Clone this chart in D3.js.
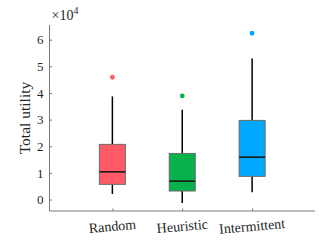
<!DOCTYPE html>
<meta charset="UTF-8">
<style>
  body { margin: 0; background: #fff; }
  text { font-family: "Liberation Serif", "DejaVu Serif", serif; fill: #262626; }
  .axis path, .axis line { stroke: #777; }
</style>
<body>
<svg width="332" height="249" id="chart"></svg>
<script src="https://cdnjs.cloudflare.com/ajax/libs/d3/7.8.5/d3.min.js"></script>
<script>

// box stats (total utility)
var categories = ["Random", "Heuristic", "Intermittent"];
var colors = ["#ff5a66", "#08b14a", "#00a8ff"];
var q1       = [5700, 3200, 8700];
var median   = [10400, 6900, 15900];
var q3       = [20700, 17300, 29700];
var whiskLo  = [2100, -1300, 2700];
var whiskHi  = [38700, 33700, 52900];
var outliers = [45900, 38900, 62400];
var yTicks = [0, 1, 2, 3, 4, 5, 6];

var svg = d3.select("#chart");
var plotL = 49.5, plotR = 315, plotT = 25, plotB = 211;

var x = d3.scaleLinear().domain([0.1, 3.9]).range([plotL, plotR]);
var y = d3.scaleLinear().domain([-0.43, 6.55]).range([plotB, plotT]);

// axes, ticks pointing inward
svg.append("g")
    .attr("class", "axis")
    .attr("transform", "translate(0," + plotB + ")")
    .call(d3.axisBottom(x).tickValues([1, 2, 3]).tickSize(-2.5).tickFormat(""))
    .call(function(g) { g.select(".domain").attr("d", "M" + plotL + ",0H" + plotR); });

var yAxis = svg.append("g")
    .attr("class", "axis")
    .attr("transform", "translate(" + plotL + ",0)")
    .call(d3.axisLeft(y).tickValues(yTicks).tickSize(-2.5).tickPadding(6).tickFormat(d3.format("d")))
    .call(function(g) { g.select(".domain").attr("d", "M0," + plotT + "V" + plotB); });
yAxis.selectAll("text").style("font-size", "13px").style("font-family", null).attr("fill", "#262626");

// category labels, slightly tilted
categories.forEach(function(c, i) {
  svg.append("text")
      .attr("transform", "translate(" + x(i + 1) + ",226) rotate(-5)")
      .attr("text-anchor", "middle")
      .attr("dy", "0.35em")
      .style("font-size", "14px")
      .text(c);
});

// y label
svg.append("text")
    .attr("transform", "translate(25," + 118 + ") rotate(-90)")
    .attr("text-anchor", "middle")
    .attr("dy", "0.35em")
    .style("font-size", "15.5px")
    .text("Total utility");

// exponent label
var ex = svg.append("text")
    .attr("x", plotL + 2)
    .attr("y", 20)
    .style("font-size", "14px");
ex.append("tspan").text("\u00d710");
ex.append("tspan").attr("dy", "-6").style("font-size", "10px").text("4");

// boxes
var bw = 26;
categories.forEach(function(c, i) {
  var cx = x(i + 1);
  var g = svg.append("g");
  g.append("line")
      .attr("x1", cx).attr("x2", cx)
      .attr("y1", y(whiskHi[i] / 1e4)).attr("y2", y(q3[i] / 1e4))
      .attr("stroke", "#000").attr("stroke-width", 1.5);
  g.append("line")
      .attr("x1", cx).attr("x2", cx)
      .attr("y1", y(q1[i] / 1e4)).attr("y2", y(whiskLo[i] / 1e4))
      .attr("stroke", "#000").attr("stroke-width", 1.5);
  g.append("rect")
      .attr("x", cx - bw / 2)
      .attr("width", bw)
      .attr("y", y(q3[i] / 1e4))
      .attr("height", y(q1[i] / 1e4) - y(q3[i] / 1e4))
      .attr("fill", colors[i])
      .attr("stroke", "#6a6a6a")
      .attr("stroke-width", 1);
  g.append("line")
      .attr("x1", cx - bw / 2).attr("x2", cx + bw / 2)
      .attr("y1", y(median[i] / 1e4)).attr("y2", y(median[i] / 1e4))
      .attr("stroke", "#1a1a1a").attr("stroke-width", 1.6);
  g.append("circle")
      .attr("cx", cx)
      .attr("cy", y(outliers[i] / 1e4))
      .attr("r", 2.4)
      .attr("fill", colors[i]);
});

</script>
</body>
